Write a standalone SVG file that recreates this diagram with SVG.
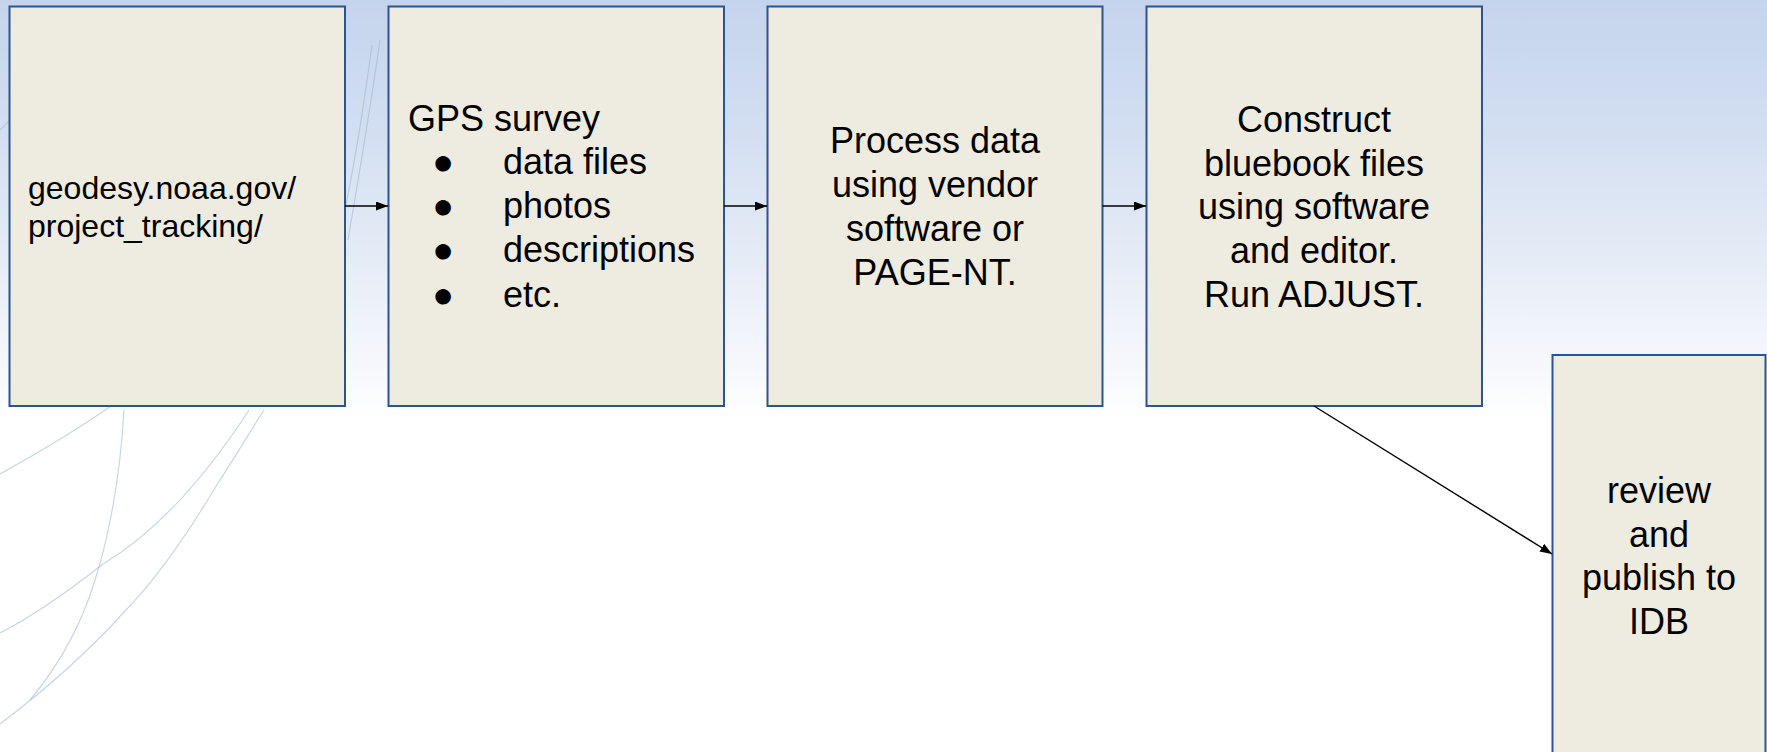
<svg xmlns="http://www.w3.org/2000/svg" width="1767" height="752" viewBox="0 0 1767 752">
  <defs>
    <linearGradient id="bg" x1="0" y1="0" x2="0" y2="1" gradientUnits="objectBoundingBox">
      <stop offset="0" stop-color="#c5d4ed"/>
      <stop offset="0.18" stop-color="#d3dff1"/>
      <stop offset="0.35" stop-color="#e6ecf6"/>
      <stop offset="0.5" stop-color="#f8f9fd"/>
      <stop offset="0.56" stop-color="#ffffff"/>
      <stop offset="1" stop-color="#ffffff"/>
    </linearGradient>
    <marker id="arrow" markerUnits="userSpaceOnUse" markerWidth="13" markerHeight="10" refX="12" refY="4.5" orient="auto">
      <path d="M0,0 L12,4.5 L0,9 z" fill="#000"/>
    </marker>
  </defs>
  <style>
    .box { fill: #eeebe0; stroke: #2c558f; stroke-width: 2; }
    .t { font-family: "Liberation Sans", Arial, sans-serif; fill: #000; }
    .s32 { font-size: 32px; }
    .s36 { font-size: 36px; }
    .mid { text-anchor: middle; }
    .conn { stroke: #000; stroke-width: 1.4; fill: none; marker-end: url(#arrow); }
    .arc { stroke: #9fb4cc; stroke-width: 1.2; fill: none; opacity: 0.55; }
  </style>

  <rect x="0" y="0" width="1767" height="752" fill="url(#bg)"/>

  <g id="background-arcs">
    <path class="arc" d="M0,474 C40,452 80,428 120,400 C200,340 280,250 330,60"/>
    <path class="arc" d="M124,410 C120,480 108,540 95,580 C80,630 55,670 30,700"/>
    <path class="arc" d="M249,410 C210,470 160,530 103,564 C70,590 35,615 0,633"/>
    <path class="arc" d="M264,410 C245,440 230,465 218,483 C190,530 160,575 126,610 C90,650 45,690 0,724"/>
    <path class="arc" d="M380,40 C370,110 360,170 348,240"/>
    <path class="arc" d="M372,45 C362,120 355,160 345,210"/>
    <path class="arc" d="M0,130 C10,120 20,110 30,100"/>
  </g>

  <g id="node-tracking">
    <rect class="box" x="9.5" y="6.5" width="335.5" height="399.5"/>
    <text class="t s32" x="28" y="199">geodesy.noaa.gov/</text>
    <text class="t s32" x="28" y="236.5">project_tracking/</text>
  </g>

  <g id="node-survey">
    <rect class="box" x="388.5" y="6.5" width="335.5" height="399.5"/>
    <text class="t s36" x="408" y="131">GPS survey</text>
    <text class="t s36 mid" x="443" y="174">●</text>
    <text class="t s36" x="503" y="174">data files</text>
    <text class="t s36 mid" x="443" y="218">●</text>
    <text class="t s36" x="503" y="218">photos</text>
    <text class="t s36 mid" x="443" y="262">●</text>
    <text class="t s36" x="503" y="262">descriptions</text>
    <text class="t s36 mid" x="443" y="306.5">●</text>
    <text class="t s36" x="503" y="306.5">etc.</text>
  </g>

  <g id="node-process">
    <rect class="box" x="767.5" y="6.5" width="335" height="399.5"/>
    <text class="t s36 mid" x="935" y="153.3">Process data</text>
    <text class="t s36 mid" x="935" y="196.7">using vendor</text>
    <text class="t s36 mid" x="935" y="240.7">software or</text>
    <text class="t s36 mid" x="935" y="285">PAGE-NT.</text>
  </g>

  <g id="node-bluebook">
    <rect class="box" x="1146.5" y="6.5" width="335.5" height="399.5"/>
    <text class="t s36 mid" x="1314" y="131.7">Construct</text>
    <text class="t s36 mid" x="1314" y="175.7">bluebook files</text>
    <text class="t s36 mid" x="1314" y="219">using software</text>
    <text class="t s36 mid" x="1314" y="263.3">and editor.</text>
    <text class="t s36 mid" x="1314" y="307.3">Run ADJUST.</text>
  </g>

  <g id="node-publish">
    <rect class="box" x="1552.5" y="355" width="213" height="400"/>
    <text class="t s36 mid" x="1659" y="502.7">review</text>
    <text class="t s36 mid" x="1659" y="546.7">and</text>
    <text class="t s36 mid" x="1659" y="590">publish to</text>
    <text class="t s36 mid" x="1659" y="634">IDB</text>
  </g>

  <g id="connectors">
    <line class="conn" x1="345" y1="206" x2="388" y2="206"/>
    <line class="conn" x1="724" y1="206" x2="767" y2="206"/>
    <line class="conn" x1="1102.5" y1="206" x2="1146" y2="206"/>
    <line class="conn" x1="1314" y1="406" x2="1552" y2="554"/>
  </g>
</svg>
